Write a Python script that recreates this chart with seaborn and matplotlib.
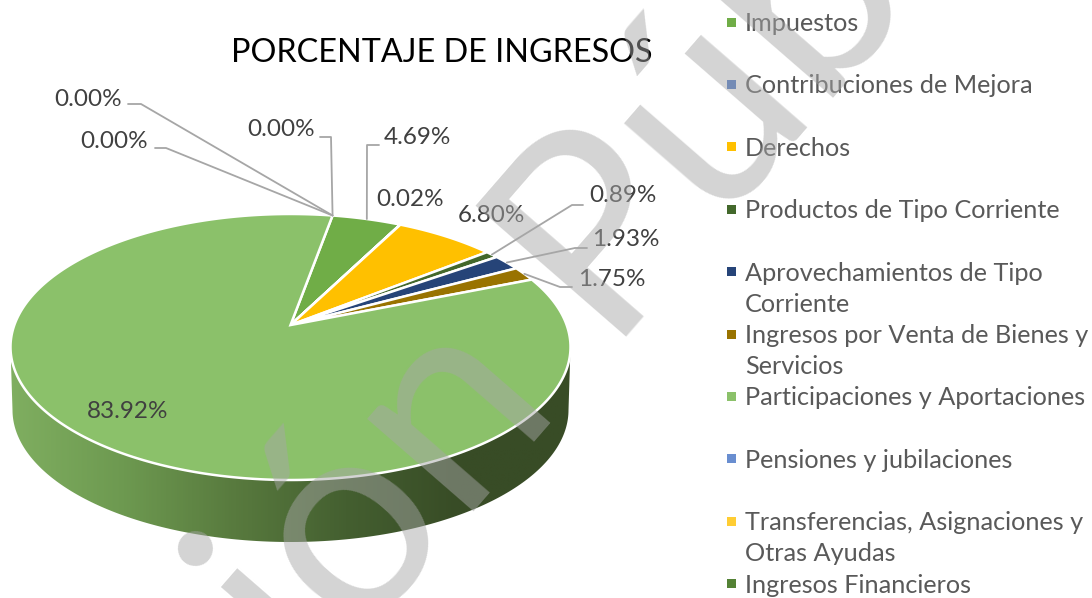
#!/usr/bin/env python

# import libraries
import numpy as np
import seaborn as sns
import matplotlib.pyplot as plt
from matplotlib.colors import LinearSegmentedColormap
from matplotlib.patches import Polygon, Rectangle

# chart data
categories = ["Impuestos", "Contribuciones de Mejora", "Derechos", "Productos de Tipo Corriente",
              "Aprovechamientos de Tipo\nCorriente", "Ingresos por Venta de Bienes y\nServicios",
              "Participaciones y Aportaciones", "Pensiones y jubilaciones",
              "Transferencias, Asignaciones y\nOtras Ayudas", "Ingresos Financieros"]
values = [4.69, 0.02, 6.80, 0.89, 1.93, 1.75, 83.92, 0.00, 0.00, 0.00]
colors = ["#70ad47", "#4472c4", "#ffc000", "#43682b", "#264478", "#997300",
          "#8bc16a", "#698ed0", "#ffcd33", "#548235"]
title = "PORCENTAJE DE INGRESOS"

# label text position (pixels) and leader elbow, None = no leader line
label_pos = [(417, 137), (410, 200), (491, 216), (623, 196), (626, 239),
             (612, 279), (128, 411), (281, 129), (114, 141), (88, 99)]
label_elbow = [((379, 145), (367, 145)), None, None, ((583, 205), (572, 205)),
               ((587, 248), (575, 248)), ((572, 287), (560, 287)), None,
               ((320, 137), (331, 137)), ((155, 148), (166, 148)), ((128, 104), (141, 104))]

sns.set_theme(style="white")
plt.rcParams['font.family'] = ['Lato', 'DejaVu Sans']

fig = plt.figure(figsize=(10.92, 5.98), dpi=100)
ax = fig.add_axes([0, 0, 1, 1])

# pie geometry, the apex sits above the ellipse centre because of the perspective
cx, cy, rx, ry = 290.5, 347, 280, 133
tilt = 0.165
start = 10.2


def project(theta):
    # circle seen in perspective, theta in degrees clockwise from the top
    t = np.radians(theta)
    u, v = np.sin(t), np.cos(t)
    d = 1 + tilt * v
    return cx + rx * u * np.sqrt(1 - tilt ** 2) / d, cy - ry * (v + tilt) / d


apex = (cx, cy - ry * tilt)

# side wall with the horizontal gradient
t = np.radians(np.linspace(180, 0, 200))
upper = np.column_stack([cx + rx * np.cos(t), cy + ry * np.sin(t)])
lower = np.column_stack([cx + 278 * np.cos(t[::-1]), 410 + 132 * np.sin(t[::-1])])
wall = Polygon(np.vstack([upper, lower]), closed=True, transform=ax.transData, facecolor="none", edgecolor="none")
ax.add_patch(wall)
wall_cmap = LinearSegmentedColormap.from_list("wall", ["#7fae60", "#6d9950", "#587a3e", "#445f30", "#384c26", "#384c26"])
im = ax.imshow(np.linspace(0, 1, 300).reshape(1, -1), cmap=wall_cmap, aspect="auto",
               extent=(11, 571, 560, 340), zorder=1)
im.set_clip_path(wall)

# top face of the pie
angle = start
mids = []
for value, color in zip(values, colors):
    sweep = value * 3.6
    thetas = np.linspace(angle, angle + sweep, max(2, int(sweep * 2)))
    rim_x, rim_y = project(thetas)
    mids.append(project(angle + sweep / 2))
    if value > 0:
        points = np.vstack([[apex], np.column_stack([rim_x, rim_y])])
        ax.add_patch(Polygon(points, closed=True, facecolor=color, edgecolor="white", linewidth=1.8, zorder=2))
    angle += sweep

# value labels and leader lines
for value, pos, elbow, mid in zip(values, label_pos, label_elbow, mids):
    ax.text(pos[0], pos[1], f"{value:.2f}%", fontsize=17.5, color="#404040", ha="center", va="center", zorder=4)
    if elbow is not None:
        xs = [elbow[0][0], elbow[1][0], mid[0]]
        ys = [elbow[0][1], elbow[1][1], mid[1]]
        ax.plot(xs, ys, color="#a6a6a6", linewidth=1.3, zorder=3)

# title
ax.text(442, 53, title, fontsize=23.3, color="black", ha="center", va="center", zorder=4)

# legend, one slot every 62.4 px
for i, (name, color) in enumerate(zip(categories, colors)):
    y = 22 + 62.4 * i
    ax.add_patch(Rectangle((727, y - 4.5), 9, 9, facecolor=color, edgecolor="none", zorder=4))
    ax.text(745, y - 10, name, fontsize=18.2, color="#595959", ha="left", va="top", linespacing=1.42, zorder=4)

# watermark on top of everything
ax.text(509, 351, "Versión Pública", fontsize=200, color="#a7a7a7", alpha=0.49, rotation=49,
        rotation_mode="anchor", ha="center", va="center", zorder=6, clip_on=True)

ax.set_xlim(0, 1092)
ax.set_ylim(598, 0)
ax.axis("off")

fig.savefig("out.png", dpi=100)
